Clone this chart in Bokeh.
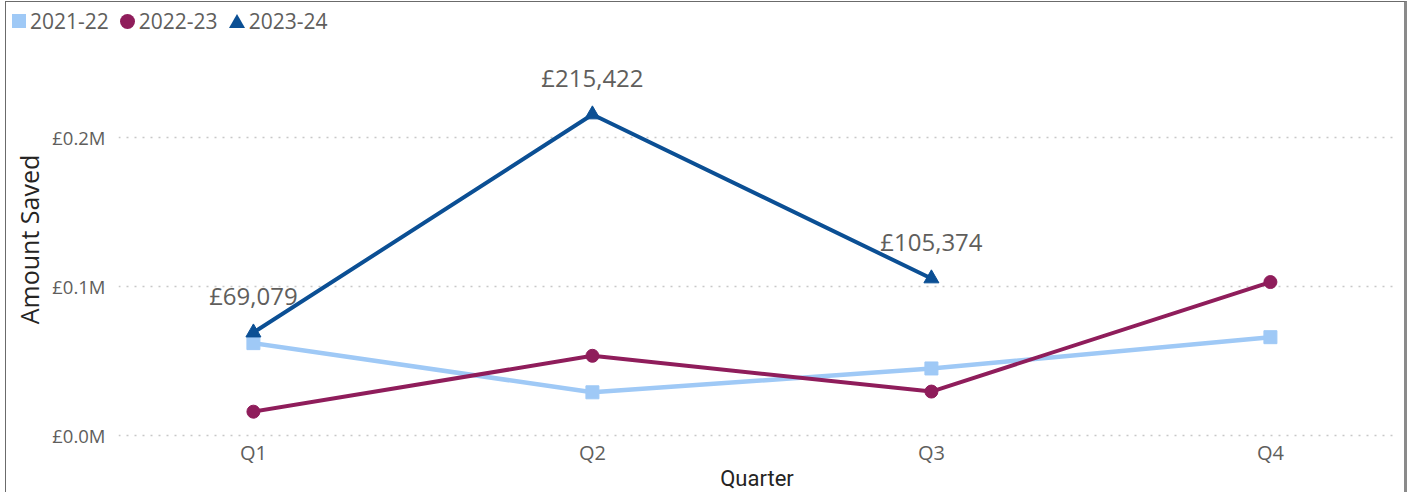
from bokeh.plotting import figure
from bokeh.layouts import column
from bokeh.models import ColumnDataSource, FixedTicker, Range1d, Div
from bokeh.embed import file_html
from bokeh.resources import INLINE
from bokeh.core.properties import value

quarters = ["Q1", "Q2", "Q3", "Q4"]
series_names = ["2021-22", "2022-23", "2023-24"]
vals_2122 = [62000, 29000, 45000, 66000]
vals_2223 = [16000, 53500, 29500, 103000]
vals_2324 = [69079, 215422, 105374]
y_ticks = [0, 100000, 200000]
y_tick_labels = ["£0.0M", "£0.1M", "£0.2M"]

colors = ["#9FC9F6", "#8F1D5B", "#0B4F94"]
markers = ["square", "circle", "triangle"]
font = "Open Sans"
gray = "#605E5C"

W = 1398

# ---- legend strip (HTML) ----
shape_css = {
    "square": "display:inline-block;width:14px;height:14px;background:{c};",
    "circle": "display:inline-block;width:15px;height:15px;border-radius:50%;background:{c};",
    "triangle": "display:inline-block;width:0;height:0;border-left:8px solid transparent;"
                "border-right:8px solid transparent;border-bottom:14px solid {c};",
}
items_html = []
for i, (n, c, mk) in enumerate(zip(series_names, colors, markers)):
    ml = "0px" if i == 0 else "11px"
    items_html.append(
        f'<span style="display:inline-flex;align-items:center;margin-left:{ml}">'
        f'<span style="{shape_css[mk].format(c=c)}margin-right:4px"></span>'
        f'<span>{n}</span></span>')
legend_html = (f'<div style="display:flex;align-items:center;height:38px;padding-left:6px;'
               f'font-family:\'{font}\';font-size:21px;color:{gray};line-height:1">'
               + "".join(items_html) + "</div>")
leg = Div(text=legend_html, width=W, height=38, margin=0)

# ---- main chart ----
p = figure(width=W, height=452, frame_width=1277, frame_height=398,
           output_backend="svg", toolbar_location=None,
           x_range=Range1d(-0.398, 3.369), y_range=Range1d(-2000, 265100),
           min_border_left=112, min_border_right=9, min_border_top=0,
           min_border_bottom=0)
p.outline_line_color = None

xs = list(range(len(quarters)))

src1 = ColumnDataSource(dict(x=xs, y=vals_2122))
p.line("x", "y", source=src1, color=colors[0], line_width=4.5)
p.scatter("x", "y", source=src1, marker=markers[0], size=13, color=colors[0])
src2 = ColumnDataSource(dict(x=xs, y=vals_2223))
p.line("x", "y", source=src2, color=colors[1], line_width=4)
p.scatter("x", "y", source=src2, marker=markers[1], size=13, color=colors[1])
src3 = ColumnDataSource(dict(x=xs[:len(vals_2324)], y=vals_2324,
                             lbl=["£{:,}".format(v) for v in vals_2324]))
p.line("x", "y", source=src3, color=colors[2], line_width=4)
p.scatter("x", "y", source=src3, marker=markers[2], size=15, color=colors[2])
p.text("x", "y", text="lbl", source=src3, text_align="center", text_baseline="bottom",
       y_offset=-21, text_font=value(font), text_font_size="24px", text_color=gray)

# axes
p.xaxis.ticker = FixedTicker(ticks=xs)
p.xaxis.major_label_overrides = {i: q for i, q in enumerate(quarters)}
p.xaxis.axis_line_color = None
p.xaxis.major_tick_line_color = None
p.xaxis.minor_tick_line_color = None
p.xaxis.major_tick_out = 0
p.xaxis.major_tick_in = 0
p.xaxis.major_label_text_font = font
p.xaxis.major_label_text_font_size = "20px"
p.xaxis.major_label_text_color = gray
p.xaxis.major_label_standoff = 0
p.xaxis.axis_label = "Quarter"
p.xaxis.axis_label_text_font = "Roboto"
p.xaxis.axis_label_text_font_style = "normal"
p.xaxis.axis_label_text_font_size = "22px"
p.xaxis.axis_label_text_color = "#252423"
p.xaxis.axis_label_standoff = -3

p.yaxis.ticker = FixedTicker(ticks=y_ticks)
p.yaxis.major_label_overrides = {t: l for t, l in zip(y_ticks, y_tick_labels)}
p.yaxis.axis_line_color = None
p.yaxis.major_tick_line_color = None
p.yaxis.minor_tick_line_color = None
p.yaxis.major_tick_out = 0
p.yaxis.major_tick_in = 0
p.yaxis.major_label_text_font = font
p.yaxis.major_label_text_font_size = "18.5px"
p.yaxis.major_label_text_color = gray
p.yaxis.major_label_standoff = 13
p.yaxis.axis_label = "Amount Saved"
p.yaxis.axis_label_text_font = font
p.yaxis.axis_label_text_font_style = "normal"
p.yaxis.axis_label_text_font_size = "25px"
p.yaxis.axis_label_text_color = "#252423"
p.yaxis.axis_label_standoff = 3

p.xgrid.grid_line_color = None
p.ygrid.grid_line_color = "#C8C8C8"
p.ygrid.grid_line_dash = "2 6"
p.ygrid.grid_line_width = 1.5

layout = column(leg, p, spacing=0)
layout.styles = {"margin-left": "5px", "margin-top": "1px",
                 "border-top": "1px solid #6b6b6b", "border-left": "1px solid #6b6b6b",
                 "border-right": "3px solid #8a8a8a"}

open("out.html", "w").write(file_html(layout, INLINE))
